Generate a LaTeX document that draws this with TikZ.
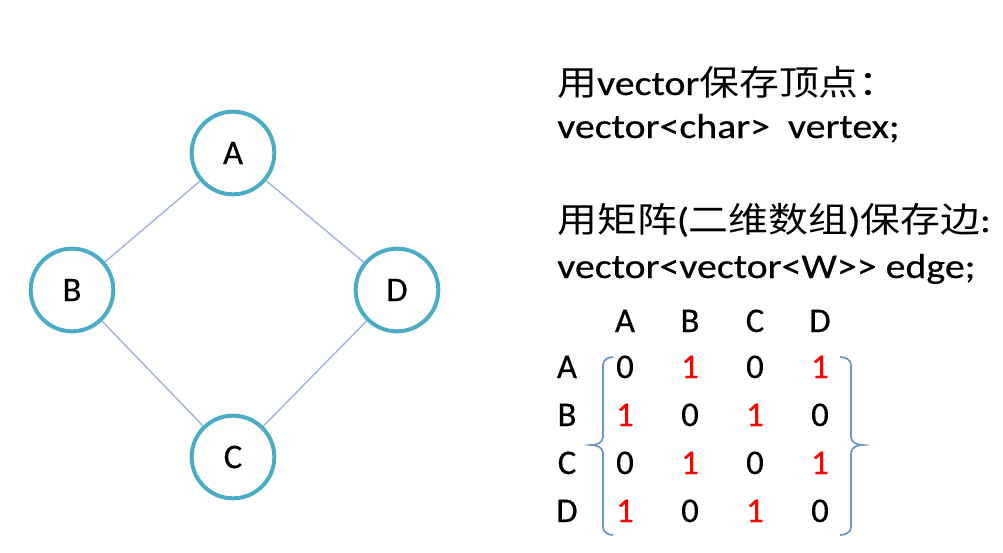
\documentclass[tikz,border=0pt]{standalone}
\usepackage{fontspec}
\setmainfont{Carlito}[FakeBold=0.4]
\newfontfamily\cjk{Noto Sans CJK SC}
\newfontfamily\widelatin[FakeStretch=1.15,FakeBold=0.5]{Carlito}
\newfontfamily\widecjk[FakeStretch=1.15]{Noto Sans CJK SC}
\usetikzlibrary{positioning}
\definecolor{ringblue}{HTML}{4BACC6}
\definecolor{edgeblue}{HTML}{A5B6D8}
\definecolor{braceblue}{HTML}{6E94CC}

\tikzset{
  vertex/.style={circle, draw=ringblue, line width=3pt, minimum size=62pt, inner sep=0pt, font=\fontsize{26}{30}\selectfont},
  link/.style={draw=edgeblue, line width=1.1pt},
  codeline/.style={anchor=base west, inner sep=0pt, font=\widelatin\fontsize{26}{30}\selectfont},
  cell/.style={anchor=base, inner sep=0pt, font=\fontsize{26}{30}\selectfont},
  bit0/.style={cell},
  bit1/.style={cell, text=red},
  brace/.style={draw=braceblue, line width=1.3pt}
}

\begin{document}
\begin{tikzpicture}[x=0.75pt, y=-0.75pt]
\useasboundingbox (0,0) rectangle (1003,553);

% the graph
\node[vertex] (A) at (233,153) {A};
\node[vertex] (B) at (72,290) {B};
\node[vertex] (D) at (397,290) {D};
\node[vertex] (C) at (233,457) {C};
\draw[link] (A) -- (B) (A) -- (D) (B) -- (C) (D) -- (C);

% how it is stored
\node[codeline] (vtitle) at (557,95) {{\widecjk 用}vector{\widecjk 保存顶点：}};
\node[codeline] (vcode) at (557,138) {vector<char>\ \ vertex;};
\node[codeline] (etitle) at (557,232) {{\widecjk 用矩阵}({\widecjk 二维数组}){\widecjk 保存边}:};
\node[codeline] (ecode) at (557,278) {vector<vector<W>{}> edge;};

% adjacency matrix
\foreach \name [count=\c] in {A,B,C,D}
  \node[cell] (col\name) at ({560+65*\c},332) {\name};
\foreach \name/\vals [count=\r] in {A/{0,1,0,1},B/{1,0,1,0},C/{0,1,0,1},D/{1,0,1,0}} {
  \node[cell] (row\name) at (567,{330+48*\r}) {\name};
  \foreach \v [count=\c] in \vals
    \node[bit\v] (m\name\c) at ({560+65*\c},{330+48*\r}) {\v};
}
\draw[brace] (613,357) to[out=180,in=90] (603,365) -- (603,437) to[out=270,in=0] (591,445)
  to[out=0,in=90] (603,453) -- (603,527) to[out=270,in=180] (613,535);
\draw[brace] (840,357) to[out=0,in=90] (851,365) -- (851,437) to[out=270,in=180] (863,445)
  to[out=180,in=90] (851,453) -- (851,527) to[out=270,in=0] (840,535);
\end{tikzpicture}
\end{document}
